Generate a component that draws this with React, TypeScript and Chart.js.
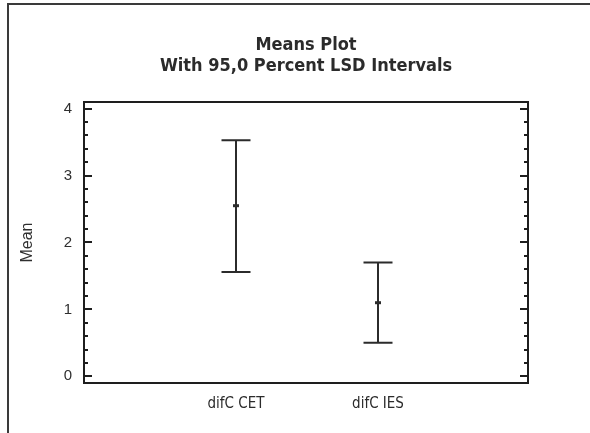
import React, { useEffect, useRef } from 'react';
import { Chart, registerables } from 'chart.js';

Chart.register(...registerables);

// Group means with their 95% LSD interval limits
const categories = ['difC CET', 'difC IES'];
const means = [2.55, 1.1];
const lowerLimits = [1.56, 0.5];
const upperLimits = [3.53, 1.7];
const yTickValues = [0, 1, 2, 3, 4];
const titleLines = ['Means Plot', 'With 95,0 Percent LSD Intervals'];
const yAxisTitle = 'Mean';

const INK = '#2b2b2b';
const NARROW = '"Liberation Sans Narrow", "DejaVu Sans Condensed", "Arial Narrow", sans-serif';
const SANS = '"Liberation Sans", Arial, Helvetica, sans-serif';
const MINOR_STEP = 0.2;
const CAP_HALF = 14.5;

// Outer figure frame (top and left edges only)
const framePlugin = {
  id: 'figureFrame',
  beforeDraw(chart: any) {
    const { ctx, width, height } = chart;
    ctx.save();
    ctx.fillStyle = '#ffffff';
    ctx.fillRect(0, 0, width, height);
    ctx.strokeStyle = '#3a3a3a';
    ctx.lineWidth = 2;
    ctx.beginPath();
    ctx.moveTo(8, height);
    ctx.lineTo(8, 4);
    ctx.lineTo(width, 4);
    ctx.stroke();
    ctx.restore();
  },
};

// Two-line title centred over the plot box
const plotTitlePlugin = {
  id: 'plotTitle',
  afterDraw(chart: any) {
    const { ctx, chartArea } = chart;
    const cx = (chartArea.left + chartArea.right) / 2;
    ctx.save();
    ctx.fillStyle = INK;
    ctx.font = `bold 18px ${NARROW}`;
    ctx.textAlign = 'center';
    ctx.textBaseline = 'middle';
    titleLines.forEach((line, i) => {
      ctx.fillText(line, cx, 45 + i * 21);
    });
    ctx.restore();
  },
};

// Vertical interval bars with caps, drawn under the mean markers
const intervalPlugin = {
  id: 'lsdIntervals',
  beforeDatasetsDraw(chart: any) {
    const { ctx } = chart;
    const x = chart.scales.x;
    const y = chart.scales.y;
    ctx.save();
    ctx.strokeStyle = INK;
    ctx.lineWidth = 2;
    categories.forEach((_, i) => {
      const px = Math.round(x.getPixelForValue(i + 1));
      const yl = y.getPixelForValue(lowerLimits[i]);
      const yh = y.getPixelForValue(upperLimits[i]);
      ctx.beginPath();
      ctx.moveTo(px, yh);
      ctx.lineTo(px, yl);
      ctx.moveTo(px - CAP_HALF, yh);
      ctx.lineTo(px + CAP_HALF, yh);
      ctx.moveTo(px - CAP_HALF, yl);
      ctx.lineTo(px + CAP_HALF, yl);
      ctx.stroke();
    });
    ctx.restore();
  },
};

// Plot box with inward major/minor ticks on both vertical sides
const boxPlugin = {
  id: 'plotBox',
  afterDraw(chart: any) {
    const { ctx, chartArea } = chart;
    const y = chart.scales.y;
    const { left, right, top, bottom } = chartArea;
    ctx.save();
    ctx.strokeStyle = '#1e1e1e';
    ctx.lineWidth = 2;
    ctx.strokeRect(left, top, right - left, bottom - top);
    const first = yTickValues[0];
    const last = yTickValues[yTickValues.length - 1];
    const n = Math.round((last - first) / MINOR_STEP);
    ctx.beginPath();
    for (let k = 0; k <= n; k++) {
      const v = first + k * MINOR_STEP;
      const major = k % Math.round(1 / MINOR_STEP) === 0;
      const len = major ? 8 : 4;
      const py = Math.round(y.getPixelForValue(v));
      ctx.moveTo(left, py);
      ctx.lineTo(left + len, py);
      ctx.moveTo(right, py);
      ctx.lineTo(right - len, py);
    }
    ctx.stroke();
    ctx.restore();
  },
};

export default function App() {
  const canvasRef = useRef<HTMLCanvasElement | null>(null);

  useEffect(() => {
    document.body.style.margin = '0';
    const canvas = canvasRef.current;
    if (!canvas) return;
    const chart = new Chart(canvas, {
      type: 'scatter',
      data: {
        datasets: [
          {
            label: 'Mean',
            data: means.map((m, i) => ({ x: i + 1, y: m })),
            pointStyle: 'line',
            pointRadius: 3,
            pointBorderWidth: 3,
            borderColor: INK,
            backgroundColor: INK,
          },
        ],
      },
      options: {
        responsive: false,
        animation: false,
        events: [],
        layout: { padding: { left: 0, right: 62, top: 102, bottom: 0 } },
        plugins: {
          legend: { display: false },
          tooltip: { enabled: false },
          title: { display: false },
        },
        scales: {
          x: {
            type: 'linear',
            min: -0.07,
            max: 3.056,
            grid: { display: false, drawTicks: false },
            border: { display: false },
            afterBuildTicks: (scale: any) => {
              scale.ticks = categories.map((_, i) => ({ value: i + 1 }));
            },
            afterFit: (scale: any) => {
              scale.height = 50;
            },
            ticks: {
              color: INK,
              padding: 12,
              autoSkip: false,
              maxRotation: 0,
              font: { family: NARROW, size: 15 },
              callback: (v: any) => categories[Number(v) - 1] ?? '',
            },
          },
          y: {
            type: 'linear',
            min: -0.1,
            max: 4.1,
            grid: { display: false, drawTicks: false },
            border: { display: false },
            afterBuildTicks: (scale: any) => {
              scale.ticks = yTickValues.map((v) => ({ value: v }));
            },
            afterFit: (scale: any) => {
              scale.width = 84;
            },
            ticks: {
              color: '#2f2f2f',
              padding: 12,
              font: { family: SANS, size: 15 },
              callback: (v: any) => String(v),
            },
            title: {
              display: true,
              text: yAxisTitle,
              color: '#2f2f2f',
              font: { family: SANS, size: 16, lineHeight: 1.2 },
              padding: { top: 18, bottom: 0 },
            },
          },
        },
      },
      plugins: [framePlugin, intervalPlugin, boxPlugin, plotTitlePlugin],
    });
    return () => chart.destroy();
  }, []);

  return (
    <div style={{ position: 'absolute', left: 0, top: 0, width: 590, height: 433 }}>
      <canvas ref={canvasRef} width={590} height={433} style={{ display: 'block' }} />
    </div>
  );
}
